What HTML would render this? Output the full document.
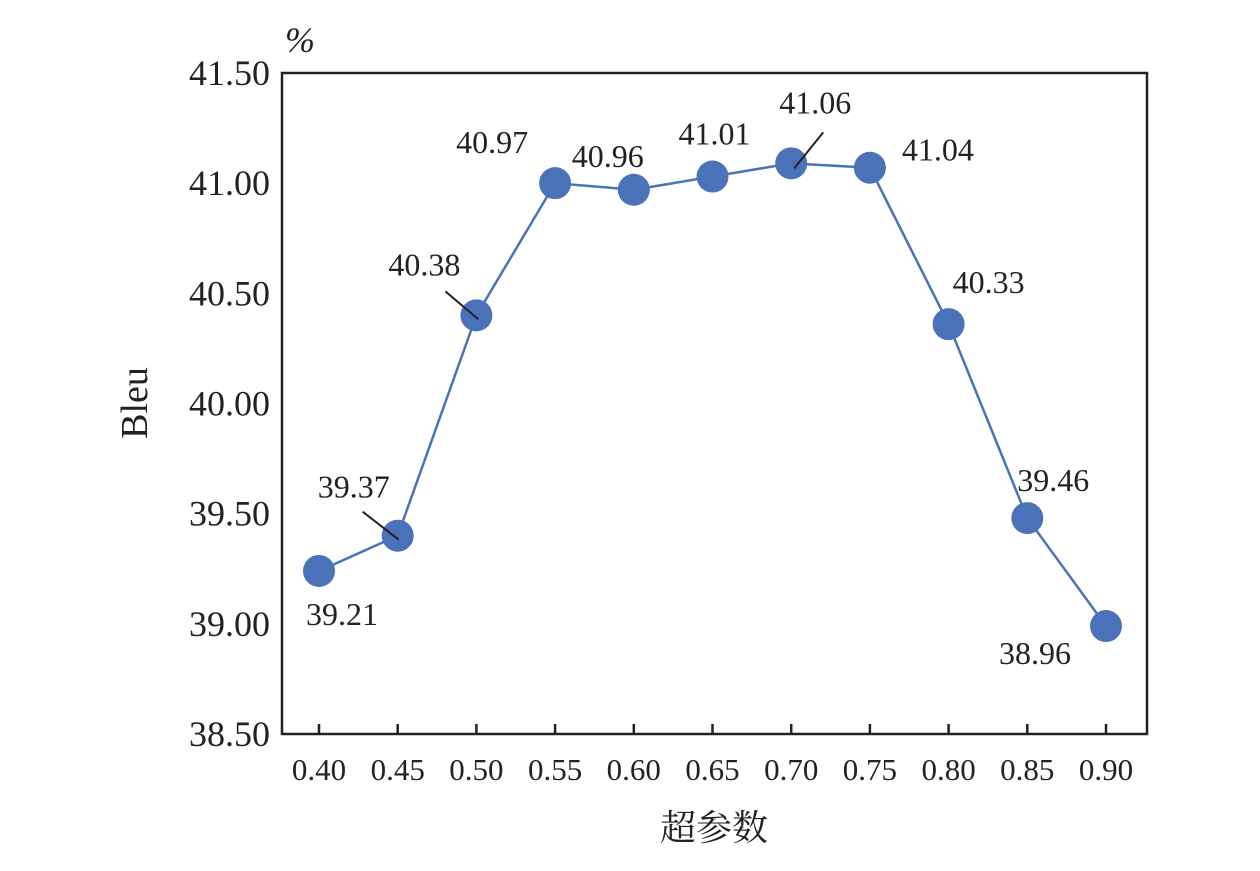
<!DOCTYPE html>
<html><head><meta charset="utf-8"><style>
html,body{margin:0;padding:0;background:#fff;}
svg text{font-family:"Liberation Serif","Noto Serif CJK SC",serif;fill:#222;}
</style></head><body>
<svg id="chart" width="1260" height="866"></svg>
<script>
const categories=[0.40,0.45,0.50,0.55,0.60,0.65,0.70,0.75,0.80,0.85,0.90];
const bleuValues=[39.24,39.40,40.40,41.00,40.97,41.03,41.09,41.07,40.36,39.48,38.99];
const pointLabels=["39.21","39.37","40.38","40.97","40.96","41.01","41.06","41.04","40.33","39.46","38.96"];
const yTicks=[38.5,39.0,39.5,40.0,40.5,41.0,41.5];
const xTickLabels=["0.40","0.45","0.50","0.55","0.60","0.65","0.70","0.75","0.80","0.85","0.90"];
// label offsets (styling)
const lblOff=[[23,43],[-44,-49],[-52,-51],[-63,-41],[-26,-34],[2,-43],[24,-61],[68,-18],[40,-42],[26,-38],[-71,27]];
const leaders={1:[[-35,-24],[1,4]],2:[[-31,-24],[2,4]],6:[[32,-31],[3,5]]};
const L=282,R=1147,T=73,B=734;
const x=v=>319+(v-0.40)/0.5*(1106-319);
const y=v=>B-(v-38.5)/3.0*(B-T);
const svg=document.getElementById('chart');const NS='http://www.w3.org/2000/svg';
function mk(t,a,p){const e=document.createElementNS(NS,t);for(const k in a)e.setAttribute(k,a[k]);(p||svg).appendChild(e);return e;}
let e;
e=mk('rect',{x:L,y:T,width:R-L,height:B-T,fill:'none',stroke:'#222','stroke-width':2.5});


yTicks.forEach(v=>{
 e=mk('text',{x:L-12,y:y(v)+12,'text-anchor':'end','font-size':36});e.textContent=v.toFixed(2);
 
 
});
categories.forEach((c,i)=>{
 e=mk('line',{x1:x(c),x2:x(c),y1:B,y2:B-10,stroke:'#222','stroke-width':2.5});
 
 
 e=mk('text',{x:x(c),y:B+46,'text-anchor':'middle','font-size':31});e.textContent=xTickLabels[i];
 
 
});
e=mk('polyline',{points:categories.map((c,i)=>x(c)+','+y(bleuValues[i])).join(' '),fill:'none',stroke:'#4a72b8','stroke-width':2.5});


categories.forEach((c,i)=>{
 const px=x(c),py=y(bleuValues[i]);
 e=mk('circle',{cx:px,cy:py,r:16,fill:'#4a72b8'});
 
 
 if(leaders[i]){const l=leaders[i];
  e=mk('line',{x1:px+l[0][0],y1:py+l[0][1],x2:px+l[1][0],y2:py+l[1][1],stroke:'#222','stroke-width':2});
  
  }
 e=mk('text',{x:px+lblOff[i][0],y:py+lblOff[i][1]+11,'text-anchor':'middle','font-size':32});e.textContent=pointLabels[i];
 
 
});
e=mk('text',{x:147,y:403,'text-anchor':'middle','font-size':38,transform:'rotate(-90 147 403)'});e.textContent='Bleu';


e=mk('text',{x:300,y:52,'text-anchor':'middle','font-size':36,'font-style':'italic'});e.textContent='%';


e=mk('text',{x:714,y:840,'text-anchor':'middle','font-size':36});e.textContent='超参数';


</script>
</body></html>
